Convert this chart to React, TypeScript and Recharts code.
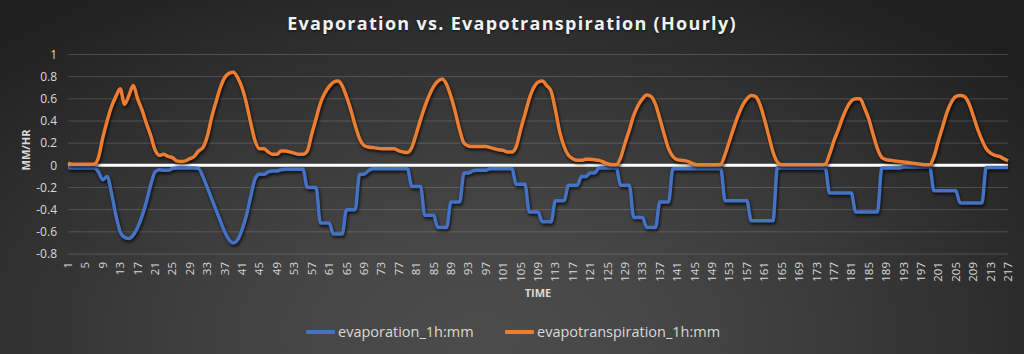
import { LineChart, Line, XAxis, YAxis, CartesianGrid, ReferenceLine } from "recharts";

// hourly categories 1..217
const hours = Array.from({ length: 217 }, (_, i) => i + 1);

const evaporation = [
  -0.02, -0.025, -0.025, -0.025, -0.025, -0.025, -0.025, -0.06, -0.13, -0.1,
  -0.25, -0.45, -0.6, -0.65, -0.66, -0.63, -0.56, -0.46, -0.33, -0.18,
  -0.06, -0.04, -0.045, -0.045, -0.03, -0.025, -0.025, -0.025, -0.025, -0.025,
  -0.03, -0.1, -0.2, -0.3, -0.4, -0.5, -0.6, -0.67, -0.7, -0.67,
  -0.58, -0.45, -0.28, -0.12, -0.08, -0.08, -0.06, -0.05, -0.05, -0.04,
  -0.035, -0.035, -0.035, -0.035, -0.035, -0.2, -0.2, -0.2, -0.52, -0.52,
  -0.52, -0.62, -0.62, -0.62, -0.4, -0.4, -0.4, -0.08, -0.08, -0.05,
  -0.03, -0.03, -0.03, -0.03, -0.03, -0.03, -0.03, -0.03, -0.03, -0.19,
  -0.19, -0.19, -0.45, -0.45, -0.45, -0.56, -0.56, -0.56, -0.33, -0.33,
  -0.33, -0.07, -0.07, -0.05, -0.045, -0.045, -0.045, -0.03, -0.03, -0.03,
  -0.03, -0.03, -0.03, -0.17, -0.17, -0.17, -0.42, -0.42, -0.42, -0.51,
  -0.51, -0.51, -0.32, -0.32, -0.32, -0.18, -0.18, -0.18, -0.1, -0.1,
  -0.07, -0.07, -0.025, -0.025, -0.025, -0.025, -0.025, -0.18, -0.18, -0.18,
  -0.47, -0.47, -0.47, -0.56, -0.56, -0.56, -0.33, -0.33, -0.33, -0.03,
  -0.03, -0.03, -0.03, -0.03, -0.03, -0.03, -0.03, -0.03, -0.03, -0.03,
  -0.03, -0.32, -0.32, -0.32, -0.32, -0.32, -0.32, -0.5, -0.5, -0.5,
  -0.5, -0.5, -0.5, -0.025, -0.025, -0.025, -0.025, -0.025, -0.025, -0.025,
  -0.025, -0.025, -0.025, -0.025, -0.025, -0.25, -0.25, -0.25, -0.25, -0.25,
  -0.25, -0.42, -0.42, -0.42, -0.42, -0.42, -0.42, -0.025, -0.025, -0.025,
  -0.025, -0.025, -0.015, -0.015, -0.015, -0.015, -0.015, -0.015, -0.015, -0.23,
  -0.23, -0.23, -0.23, -0.23, -0.23, -0.34, -0.34, -0.34, -0.34, -0.34,
  -0.34, -0.02, -0.02, -0.02, -0.02, -0.02, -0.02,
];

const evapotranspiration = [
  0.02, 0.01, 0.01, 0.01, 0.01, 0.01, 0.01, 0.07, 0.25, 0.4,
  0.53, 0.62, 0.69, 0.55, 0.63, 0.72, 0.6, 0.5, 0.38, 0.27,
  0.14, 0.09, 0.1, 0.08, 0.07, 0.04, 0.035, 0.04, 0.06, 0.08,
  0.13, 0.16, 0.26, 0.43, 0.57, 0.7, 0.79, 0.83, 0.84, 0.79,
  0.7, 0.56, 0.38, 0.22, 0.15, 0.15, 0.12, 0.1, 0.1, 0.13,
  0.13, 0.12, 0.11, 0.1, 0.1, 0.13, 0.28, 0.42, 0.56, 0.65,
  0.71, 0.75, 0.76, 0.72, 0.62, 0.5, 0.36, 0.24, 0.18, 0.165,
  0.16, 0.155, 0.15, 0.15, 0.15, 0.15, 0.13, 0.12, 0.115, 0.16,
  0.28, 0.41, 0.53, 0.63, 0.71, 0.76, 0.78, 0.73, 0.62, 0.48,
  0.32, 0.2, 0.175, 0.17, 0.17, 0.17, 0.17, 0.16, 0.15, 0.14,
  0.135, 0.12, 0.12, 0.17, 0.32, 0.46, 0.6, 0.7, 0.75, 0.76,
  0.72, 0.67, 0.5, 0.3, 0.17, 0.09, 0.06, 0.045, 0.045, 0.055,
  0.055, 0.05, 0.045, 0.03, 0.015, 0.005, 0.005, 0.07, 0.2, 0.32,
  0.45, 0.54, 0.6, 0.635, 0.62, 0.55, 0.42, 0.28, 0.15, 0.08,
  0.05, 0.045, 0.04, 0.025, 0.01, 0.005, 0.005, 0.005, 0.005, 0.005,
  0.01, 0.1, 0.22, 0.34, 0.45, 0.54, 0.6, 0.63, 0.62, 0.55,
  0.42, 0.27, 0.12, 0.03, 0.005, 0.005, 0.005, 0.005, 0.005, 0.005,
  0.005, 0.005, 0.005, 0.005, 0.01, 0.1, 0.22, 0.32, 0.43, 0.52,
  0.58, 0.6, 0.6, 0.52, 0.42, 0.28, 0.15, 0.07, 0.05, 0.045,
  0.04, 0.035, 0.03, 0.025, 0.02, 0.015, 0.01, 0.005, 0.005, 0.08,
  0.22, 0.35, 0.48, 0.57, 0.62, 0.63, 0.62, 0.56, 0.45, 0.33,
  0.23, 0.15, 0.11, 0.09, 0.08, 0.06, 0.04,
];

const yTicks = [-0.8, -0.6, -0.4, -0.2, 0, 0.2, 0.4, 0.6, 0.8, 1];

const data = hours.map((h, i) => ({
  hour: h,
  evaporation: evaporation[i],
  evapotranspiration: evapotranspiration[i],
}));

const FONT = '"Open Sans", sans-serif';
const TEXT = "#d9d9d9";
const BLUE = "#4472C4";
const ORANGE = "#ED7D31";

function HourTick(props: any) {
  const { x, y, payload } = props;
  return (
    <text
      x={x}
      y={y}
      transform={`rotate(-90, ${x}, ${y})`}
      textAnchor="end"
      dy={4}
      fill={TEXT}
      fontSize={11.5}
      fontFamily={FONT}
    >
      {payload.value}
    </text>
  );
}

export default function App() {
  return (
    <div
      style={{
        position: "relative",
        width: 1024,
        height: 354,
        overflow: "hidden",
        fontFamily: FONT,
        background:
          "radial-gradient(ellipse 70% 120% at 47% 95%, #4c4c4c 0%, #464646 25%, #3a3a3a 50%, #2c2c2c 75%, #1e1e1e 100%)",
      }}
    >
      <style>{`body{margin:0} .recharts-line-curve{filter:drop-shadow(1px 2px 1.5px rgba(0,0,0,0.75));}`}</style>
      <div
        style={{
          position: "absolute",
          top: 12,
          left: 0,
          width: 1024,
          textAlign: "center",
          color: "#f2f2f2",
          fontSize: 18,
          fontWeight: 700,
          letterSpacing: 1.3,
          lineHeight: "22px",
          textShadow: "0 1px 2px rgba(0,0,0,0.6)",
        }}
      >
        Evaporation vs. Evapotranspiration (Hourly)
      </div>
      <LineChart
        width={1024}
        height={354}
        data={data}
        margin={{ top: 54.5, right: 16, left: 0, bottom: 0 }}
        style={{ position: "absolute", top: 0, left: 0 }}
      >
        <CartesianGrid vertical={false} stroke="rgba(255,255,255,0.17)" />
        <XAxis
          dataKey="hour"
          interval={3}
          axisLine={false}
          tickLine={false}
          tickSize={0}
          tickMargin={8}
          height={100}
          tick={<HourTick />}
          label={{
            content: () => (
              <text x={538} y={297} textAnchor="middle" fill={TEXT} fontSize={11} fontWeight={700} fontFamily={FONT}>
                TIME
              </text>
            ),
          }}
        />
        <YAxis
          type="number"
          domain={[-0.8, 1]}
          ticks={yTicks}
          interval={0}
          width={68}
          axisLine={false}
          tickLine={false}
          tickSize={0}
          tickMargin={11}
          tickFormatter={(v: number) => String(Math.round(v * 10) / 10)}
          tick={{ fill: TEXT, fontSize: 12, fontFamily: FONT }}
          label={{
            content: () => (
              <text
                x={26}
                y={150}
                transform="rotate(-90, 26, 150)"
                textAnchor="middle"
                dy={4}
                fill={TEXT}
                fontSize={11}
                fontWeight={700}
                fontFamily={FONT}
              >
                MM/HR
              </text>
            ),
          }}
        />
        <ReferenceLine y={0} stroke="#ffffff" strokeWidth={3} />
        <Line
          type="monotone"
          dataKey="evaporation"
          name="evaporation_1h:mm"
          stroke={BLUE}
          strokeWidth={3.5}
          dot={false}
          isAnimationActive={false}
        />
        <Line
          type="monotone"
          dataKey="evapotranspiration"
          name="evapotranspiration_1h:mm"
          stroke={ORANGE}
          strokeWidth={3.5}
          dot={false}
          isAnimationActive={false}
        />
      </LineChart>
      <div style={{ position: "absolute", left: 306, top: 330, width: 29, height: 4, background: BLUE, borderRadius: 1 }} />
      <div style={{ position: "absolute", left: 338, top: 321, color: TEXT, fontSize: 14.5, lineHeight: "22px" }}>
        evaporation_1h:mm
      </div>
      <div style={{ position: "absolute", left: 505, top: 330, width: 29, height: 4, background: ORANGE, borderRadius: 1 }} />
      <div style={{ position: "absolute", left: 537, top: 321, color: TEXT, fontSize: 14.5, lineHeight: "22px" }}>
        evapotranspiration_1h:mm
      </div>
    </div>
  );
}
